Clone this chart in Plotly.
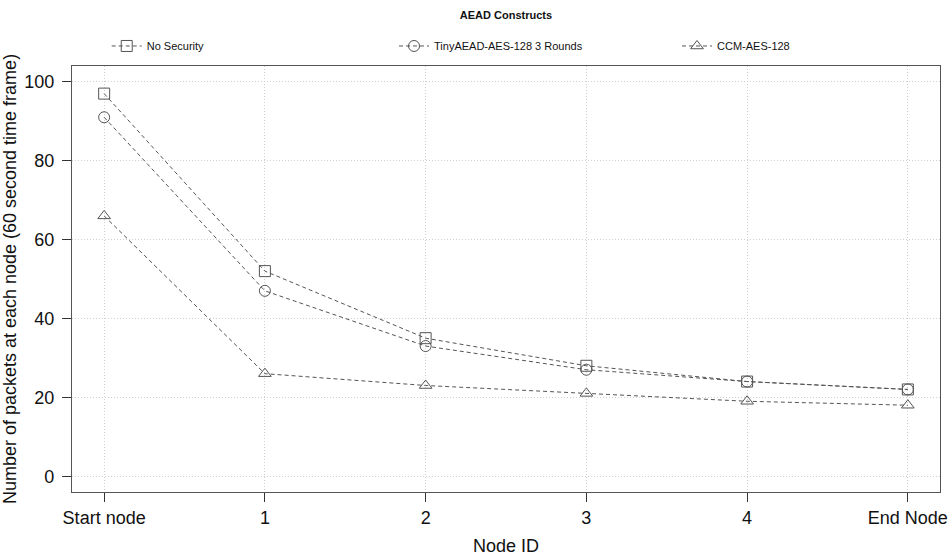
import plotly.graph_objects as go

categories = ["Start node", "1", "2", "3", "4", "End Node"]
no_security = [97, 52, 35, 28, 24, 22]
tiny_aead = [91, 47, 33, 27, 24, 22]
ccm_aes = [66, 26, 23, 21, 19, 18]

series = [
    ("No Security", no_security, "square-open", "legend"),
    ("TinyAEAD-AES-128 3 Rounds", tiny_aead, "circle-open", "legend2"),
    ("CCM-AES-128", ccm_aes, "triangle-up-open", "legend3"),
]

xs = list(range(len(categories)))
fig = go.Figure()
for name, vals, sym, lg in series:
    fig.add_trace(go.Scatter(
        x=xs, y=vals, name=name, mode="lines+markers", legend=lg, showlegend=True,
        line=dict(color="#555555", width=1, dash="4px,3px"),
        marker=dict(symbol=sym, size=11, color="#555555", line=dict(width=1, color="#555555")),
    ))

axis_common = dict(
    showline=True, linecolor="#555555", linewidth=1.2, mirror=True,
    ticks="outside", ticklen=9, tickcolor="#333333",
    showgrid=True, gridcolor="#d0d0d0", griddash="1px,2px", gridwidth=1,
    zeroline=False, automargin=False,
    tickfont=dict(family="Liberation Sans, Arial", size=18, color="#111111"),
    title_font=dict(family="Liberation Sans, Arial", size=18, color="#111111"),
)

leg_font = dict(family="Liberation Sans, Arial", size=11, color="#111111")
leg_common = dict(orientation="h", xanchor="left", y=1.047, yanchor="middle",
                  font=leg_font, bgcolor="rgba(0,0,0,0)", visible=True)

fig.update_layout(
    width=952, height=556,
    margin=dict(l=72, r=12, t=66, b=64),
    paper_bgcolor="white", plot_bgcolor="white",
    showlegend=True,
    title=dict(text="<b>AEAD Constructs</b>", x=0.5, xref="paper", y=0.972, yanchor="middle",
               font=dict(family="Liberation Sans, Arial", size=11, color="#111111")),
    legend=dict(x=0.04, **leg_common),
    legend2=dict(x=0.371, **leg_common),
    legend3=dict(x=0.697, **leg_common),
    xaxis=dict(range=[-0.2, 5.2], tickvals=xs, ticktext=categories,
               title=dict(text="Node ID", standoff=14), **axis_common),
    yaxis=dict(range=[-4, 104], tickvals=[0, 20, 40, 60, 80, 100],
               ticklabelstandoff=4,
               title=dict(text="Number of packets at each node (60 second time frame)", standoff=4),
               **axis_common),
)

fig.write_html("out.html")
